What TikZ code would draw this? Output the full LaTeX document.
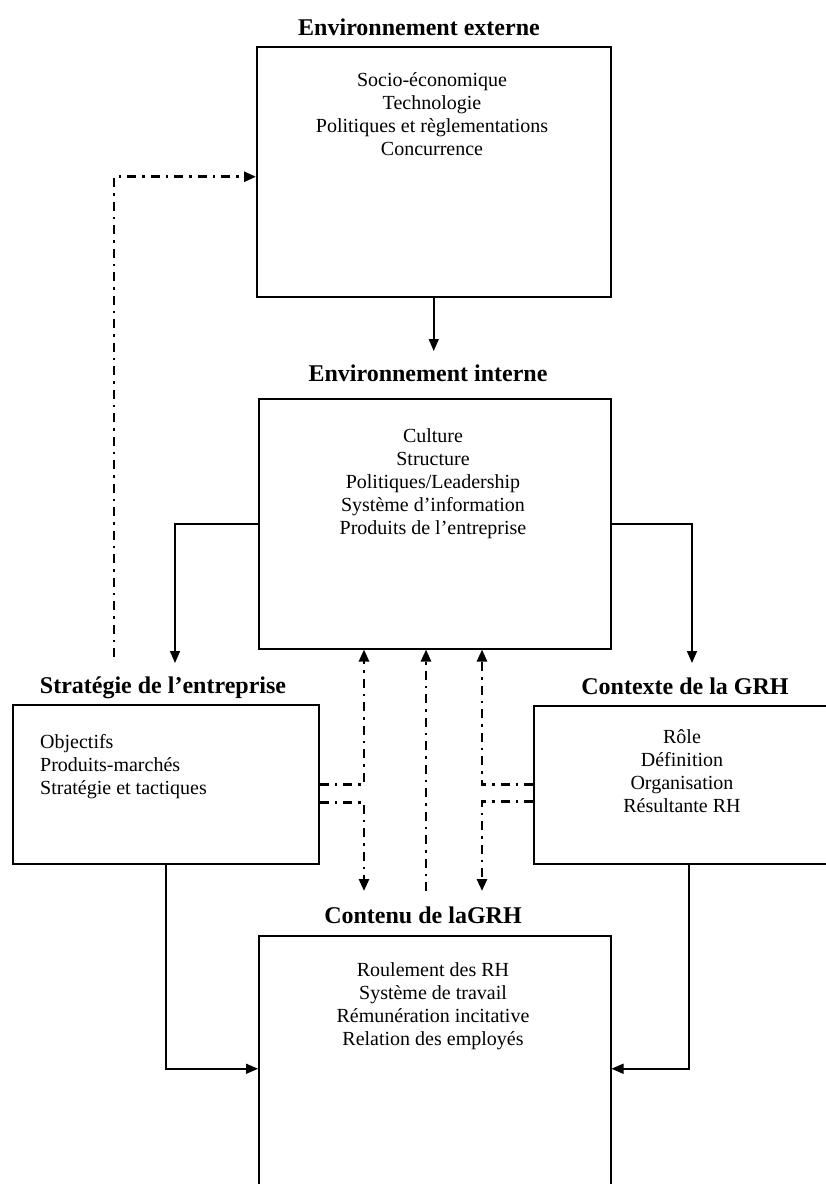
\documentclass[tikz,border=0pt]{standalone}
\usepackage{fontspec}
\setmainfont{Liberation Serif}
\usetikzlibrary{arrows.meta}
\begin{document}
\begin{tikzpicture}[x=1pt,y=-1pt,
  box/.style={draw, line width=1.5pt, inner sep=0pt, anchor=north west},
  ttl/.style={font=\fontsize{24}{28}\selectfont\bfseries, inner sep=0pt, text height=17pt, text depth=5pt},
  body/.style={font=\fontsize{20}{23}\selectfont, inner sep=0pt, align=center},
  conn/.style={line width=1.5pt, -{Triangle[length=12pt,width=10pt]}},
  dd/.style={line width=2.6pt, dash pattern=on 9pt off 6pt on 2.5pt off 6pt, -{Triangle[length=12pt,width=10pt]}},
]
\useasboundingbox (0,0) rectangle (826,1184);
\fill[white] (0,0) rectangle (826,1184);
\clip (0,0) rectangle (826,1184);

% boxes
\node[box, minimum width=354pt, minimum height=250pt] (b1) at (256,46) {};
\node[box, minimum width=352pt, minimum height=250pt] (b2) at (258,398) {};
\node[box, minimum width=306pt, minimum height=159pt] (b3) at (12,704) {};
\node[box, minimum width=310pt, minimum height=158pt] (b4) at (533,705) {};
\node[box, minimum width=352pt, minimum height=266pt] (b5) at (258,935) {};

% titles
\node[ttl] (t1) at (419,29) {Environnement externe};
\node[ttl] (t2) at (428,375) {Environnement interne};
\node[ttl] (t3) at (163,687) {Stratégie de l’entreprise};
\node[ttl] (t4) at (685,688) {Contexte de la GRH};
\node[ttl] (t5) at (423,917) {Contenu de laGRH};

% box contents
\node[body] (x1) at (432,114.5) {Socio-économique\\Technologie\\Politiques et règlementations\\Concurrence};
\node[body] (x2) at (433,484) {Culture\\Structure\\Politiques/Leadership\\Système d’information\\Produits de l’entreprise};
\node[body, align=left, anchor=west] (x3) at (40,767) {Objectifs\\Produits-marchés\\Stratégie et tactiques};
\node[body] (x4) at (682,771) {Rôle\\Définition\\Organisation\\Résultante RH};
\node[body] (x5) at (433,1006.5) {Roulement des RH\\Système de travail\\Rémunération incitative\\Relation des employés};

% solid connectors
\coordinate (e1) at (433,351);
\coordinate (e3) at (175,663);
\coordinate (e4) at (692,663);
\draw[conn] (b1.south) -- (b1.south |- e1);
\draw[conn] (b2.west) -| (e3);
\draw[conn] (b2.east) -| (e4);
\draw[conn] (b3.south) |- (b5.west);
\draw[conn] (b4.south) |- (b5.east);

% dash-dot connectors
\coordinate (s0) at (114,657);
\draw[dd] (s0) |- ([yshift=-5pt]b1.west);
\coordinate (m1) at (364,891);
\coordinate (m2) at (426,891);
\coordinate (m3) at (482,891);
\draw[dd] (b3.east) -| (b2.south -| m1);
\draw[dd] ([yshift=-18pt]b3.east) -| (m1);
\draw[dd] (m2) -- (b2.south -| m2);
\draw[dd] (b4.west) -| (b2.south -| m3);
\draw[dd] ([yshift=-17pt]b4.west) -| (m3);
\end{tikzpicture}
\end{document}
